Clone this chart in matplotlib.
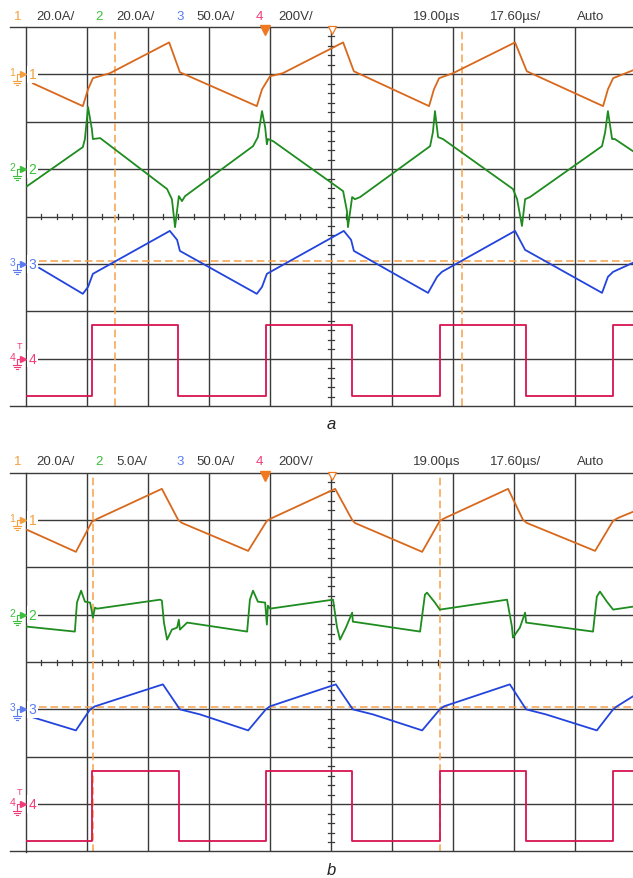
import matplotlib
matplotlib.use("Agg")
import matplotlib.pyplot as plt

W, H, DPI = 633, 879, 100

# ------------------------------------------------------------------ data
US_PER_DIV = 17.6
channels = ["1", "2", "3", "4"]
header_a = ["20.0A/", "20.0A/", "50.0A/", "200V/"]
header_b = ["20.0A/", "5.0A/", "50.0A/", "200V/"]
delay_text = "19.00µs"
timebase_text = "17.60µs/"
mode_text = "Auto"
scale_a = [20.0, 20.0, 50.0, 200.0]   # units / division
scale_b = [20.0, 5.0, 50.0, 200.0]

# ---- panel a ----
a_ch1_t = [2.0, 16.4, 17.9, 19.3, 24.2, 41.3, 44.4, 66.6, 68.1, 70.4, 74.1, 91.5, 94.6,
           116.3, 117.7, 119.2, 123.2, 141.1, 144.5, 166.5, 167.9, 169.4, 175.1]
a_ch1_A = [-3.8, -13.4, -6.3, -1.6, 0.5, 13.5, 0.9, -13.4, -6.3, -0.8, 0.5, 13.5, 1.3,
           -13.4, -6.3, -1.6, 0.5, 13.5, 1.3, -13.4, -6.3, -1.6, 1.7]

a_ch2_t = [0.3, 16.4, 17.0, 17.9, 19.0, 19.3, 21.4, 40.7, 42.1, 43.0, 44.1, 45.0, 45.9,
           65.5, 66.9, 68.1, 69.0, 69.5, 69.8, 71.3, 91.5, 92.6, 92.9, 94.1, 94.9, 96.4,
           116.6, 117.4, 118.0, 118.9, 120.3, 140.5, 141.7, 143.1, 144.0, 145.4,
           166.2, 167.1, 167.9, 169.1, 169.9, 175.1]
a_ch2_A = [-7.2, 9.3, 12.7, 26.2, 16.9, 12.7, 13.1, -8.4, -12.7, -24.5, -11.4, -13.5, -11.4,
           9.7, 13.5, 24.5, 17.7, 10.5, 12.7, 11.8, -9.3, -17.7, -24.5, -11.8, -12.7, -11.8,
           9.7, 15.6, 24.5, 13.5, 12.7, -8.4, -12.7, -24.0, -12.7, -11.8,
           9.7, 15.6, 24.5, 12.7, 12.7, 7.6]

a_ch3_t = [3.8, 16.4, 17.9, 19.3, 41.5, 43.6, 44.4, 66.6, 68.1, 69.5, 91.7, 93.8, 94.6,
           116.0, 118.6, 120.0, 141.1, 144.0, 166.2, 167.9, 169.4, 175.1]
a_ch3_A = [-4.2, -31.6, -24.3, -10.5, 34.8, 25.3, 13.7, -31.6, -24.3, -10.5, 34.8, 25.3, 13.7,
           -30.6, -13.7, -8.4, 34.8, 14.8, -30.6, -13.7, -8.4, 1.1]

a_ch4_edges_us = [19.0, 43.9, 69.2, 94.1, 119.4, 144.3, 169.4]
a_ch4_high_V, a_ch4_low_V = 143.0, -156.0
a_cursor_t_us = [25.7, 125.8]
a_cursor_ch3_A = 3.0

# ---- panel b ----
b_ch1_t = [0.3, 14.4, 19.0, 20.5, 39.2, 43.9, 45.0, 64.1, 69.5, 71.0, 89.2, 94.1, 94.9,
           114.3, 119.4, 120.9, 139.1, 143.4, 144.5, 164.2, 169.4, 170.8, 175.1]
b_ch1_A = [-4.2, -13.5, -0.8, 0.4, 13.1, 0.0, -1.3, -13.1, -0.4, 0.8, 13.1, 0.0, -1.3,
           -13.5, -0.4, 0.8, 13.1, 0.0, -1.3, -13.1, -0.4, 0.8, 3.4]

b_ch2_t = [0.3, 14.1, 14.7, 15.9, 17.0, 18.5, 19.0, 19.3, 19.9, 20.5, 38.7, 39.2, 39.8, 40.7,
           42.1, 43.6, 44.1, 44.4, 46.5, 63.8, 64.6, 65.5, 66.9, 69.0, 69.5, 69.8, 70.4,
           88.6, 89.7, 90.6, 92.3, 94.1, 94.3, 113.7, 115.1, 115.7, 118.0, 119.4,
           138.8, 140.2, 140.5, 142.5, 144.0, 144.3, 163.6, 164.7, 165.6, 167.6, 169.4, 175.1]
b_ch2_A = [-1.27, -1.79, 1.27, 2.53, 1.37, 1.27, 0.32, -0.32, 0.74, 0.63, 1.58, 1.48, -0.84, -2.64,
           -1.58, -1.37, -0.53, -1.58, -0.84, -1.79, 1.58, 2.53, 1.37, 1.27, -1.05, 0.95, 0.63,
           1.58, -1.27, -2.64, -1.37, 0.21, -0.74, -1.79, 2.11, 2.32, 1.27, 0.53,
           1.58, -1.27, -2.43, -1.37, 0.21, -0.84, -1.79, 1.90, 2.43, 1.37, 0.53, 0.84]

b_ch3_t = [2.0, 14.4, 18.5, 19.9, 39.5, 44.4, 50.2, 64.1, 69.2, 70.4, 89.4, 94.3, 100.1,
           114.3, 119.4, 120.6, 139.6, 144.3, 150.0, 164.7, 169.4, 170.5, 175.1]
b_ch3_A = [-8.4, -22.2, 0.0, 3.2, 26.4, 0.0, -5.3, -22.2, 0.0, 3.2, 26.4, 0.0, -5.3,
           -22.2, 0.0, 3.2, 26.4, 0.0, -5.3, -22.2, 0.0, 3.2, 13.7]

b_ch4_edges_us = [19.0, 44.1, 69.2, 94.1, 119.4, 144.3, 169.4]
b_ch4_high_V, b_ch4_low_V = 139.0, -156.0
b_cursor_t_us = [19.3, 119.4]
b_cursor_ch3_A = 2.0

# ------------------------------------------------------------------ style
TRACE = ["#D8681C", "#1E8C1E", "#2244DD", "#D81450"]
LABEL = ["#F2A040", "#3CC03C", "#5A7CF0", "#F03C78"]
GRID = "#3A3A3A"
CURSOR = "#F5A04A"
TEXT = "#3A3A3A"
REF_DIV = [3, 1, -1, -3]
FONT = "Liberation Sans"

PX_DIV_X = 61.0
LEFT_PX = 26.0
PANEL_H = 379.0
PX_DIV_Y = PANEL_H / 8
XMAX = (W - LEFT_PX) / PX_DIV_X * US_PER_DIV

fig = plt.figure(figsize=(W / DPI, H / DPI), dpi=DPI)
fig.patch.set_facecolor("white")
ov = fig.add_axes([0, 0, 1, 1], zorder=10)
ov.set_xlim(0, W)
ov.set_ylim(H, 0)
ov.axis("off")


def step_wave(edges, hi, lo):
    t = [0.0]
    v = [lo]
    level = lo
    for e in edges:
        t += [e, e]
        v += [level, hi if level == lo else lo]
        level = hi if level == lo else lo
    t.append(XMAX)
    v.append(level)
    return t, v


def marker(ypx, label, color, trig=False):
    ov.text(12.5, ypx - 2, label, fontsize=7.5, color=color, ha="center", va="center",
            family=FONT)
    ov.plot([17, 17, 20], [ypx + 6, ypx, ypx], color=color, lw=0.8)
    for w, dy in [(4.0, 6.5), (2.6, 8.5), (1.2, 10.5)]:
        ov.plot([17 - w, 17 + w], [ypx + dy] * 2, color=color, lw=0.8)
    ov.plot([22.5], [ypx], marker=">", ms=4.5, color=color, mec=color)
    ov.text(32.5, ypx, label, fontsize=10, color=color, ha="center", va="center",
            family=FONT, bbox=dict(fc="white", ec="none", pad=1.2))
    if trig:
        ov.text(19.5, ypx - 13, "T", fontsize=6.5, color=color, ha="center", va="center",
                family=FONT)


def panel(top_px, headers, scales, traces, edges, hi, lo, cur_t, cur_A, caption):
    ax = fig.add_axes([LEFT_PX / W, 1 - (top_px + PANEL_H) / H,
                       (W - LEFT_PX) / W, PANEL_H / H])
    ax.set_xlim(0, XMAX)
    ax.set_ylim(-4, 4)
    ax.axis("off")
    for k in range(1, 10):
        ax.axvline(k * US_PER_DIV, color=GRID, lw=1.0, zorder=1)
    for j in range(-3, 4):
        ax.axhline(j, color=GRID, lw=1.0, zorder=1)
    ax.axvline(0, color=GRID, lw=1.0, zorder=1, clip_on=False)
    # centre ticks
    hx = 3.5 / PX_DIV_X * US_PER_DIV
    for i in range(0, 41):
        x = i * US_PER_DIV / 4
        if i % 4:
            ax.plot([x, x], [-2.5 / PX_DIV_Y, 2.5 / PX_DIV_Y], color=GRID, lw=0.9, zorder=1)
    for i in range(-20, 21):
        if i % 5:
            y = i / 5
            ax.plot([5 * US_PER_DIV - hx, 5 * US_PER_DIV + hx], [y, y], color=GRID, lw=0.9,
                    zorder=1)
    # cursors
    for ct in cur_t:
        ax.axvline(ct, color=CURSOR, lw=1.1, ls=(0, (5, 2.5)), zorder=2)
    ax.plot([13 / PX_DIV_X * US_PER_DIV, XMAX], [REF_DIV[2] + cur_A / scales[2]] * 2,
            color=CURSOR, lw=1.1, ls=(0, (5, 2.5)), zorder=2)
    # traces
    for c, (t, v) in enumerate(traces):
        ax.plot(t, [REF_DIV[c] + val / scales[c] for val in v], color=TRACE[c], lw=1.3,
                zorder=3)
    t4, v4 = step_wave(edges, hi, lo)
    ax.plot(t4, [REF_DIV[3] + val / scales[3] for val in v4], color=TRACE[3], lw=1.3,
            zorder=3)

    # frame lines extending left
    bot = top_px + PANEL_H
    ov.plot([10, W], [top_px, top_px], color=GRID, lw=1.0)
    ov.plot([10, W], [bot, bot], color=GRID, lw=1.0)
    # header
    hy = top_px - 11
    xs_num = [14, 95, 176, 256]
    xs_txt = [36, 116, 196, 278]
    for c in range(4):
        ov.text(xs_num[c], hy, channels[c], color=LABEL[c], fontsize=9.5, va="center",
                ha="left", family=FONT)
        ov.text(xs_txt[c], hy, headers[c], color=TEXT, fontsize=9.5, va="center",
                ha="left", family=FONT)
    ov.text(413, hy, delay_text, color=TEXT, fontsize=9.5, va="center", ha="left", family=FONT)
    ov.text(490, hy, timebase_text, color=TEXT, fontsize=9.5, va="center", ha="left",
            family=FONT)
    ov.text(577, hy, mode_text, color=TEXT, fontsize=9.5, va="center", ha="left", family=FONT)
    # trigger / time reference markers
    ov.plot([265], [top_px + 3], marker="v", ms=7, color="#F07820", mec="#F07820")
    ov.plot([332], [top_px + 3], marker="v", ms=6, mfc="white", mec="#F07820", mew=0.9)
    # channel markers
    for c in range(4):
        ypx = top_px + (4 - REF_DIV[c]) * PX_DIV_Y
        marker(ypx, channels[c], LABEL[c], trig=(c == 3))
    ov.text(331, bot + 18, caption, fontsize=12, style="italic", ha="center", va="center",
            family=FONT, color="#222222")


panel(28, header_a, scale_a,
      [(a_ch1_t, a_ch1_A), (a_ch2_t, a_ch2_A), (a_ch3_t, a_ch3_A)],
      a_ch4_edges_us, a_ch4_high_V, a_ch4_low_V, a_cursor_t_us, a_cursor_ch3_A, "a")
panel(473.5, header_b, scale_b,
      [(b_ch1_t, b_ch1_A), (b_ch2_t, b_ch2_A), (b_ch3_t, b_ch3_A)],
      b_ch4_edges_us, b_ch4_high_V, b_ch4_low_V, b_cursor_t_us, b_cursor_ch3_A, "b")

fig.savefig("out.png", dpi=DPI, facecolor="white")
